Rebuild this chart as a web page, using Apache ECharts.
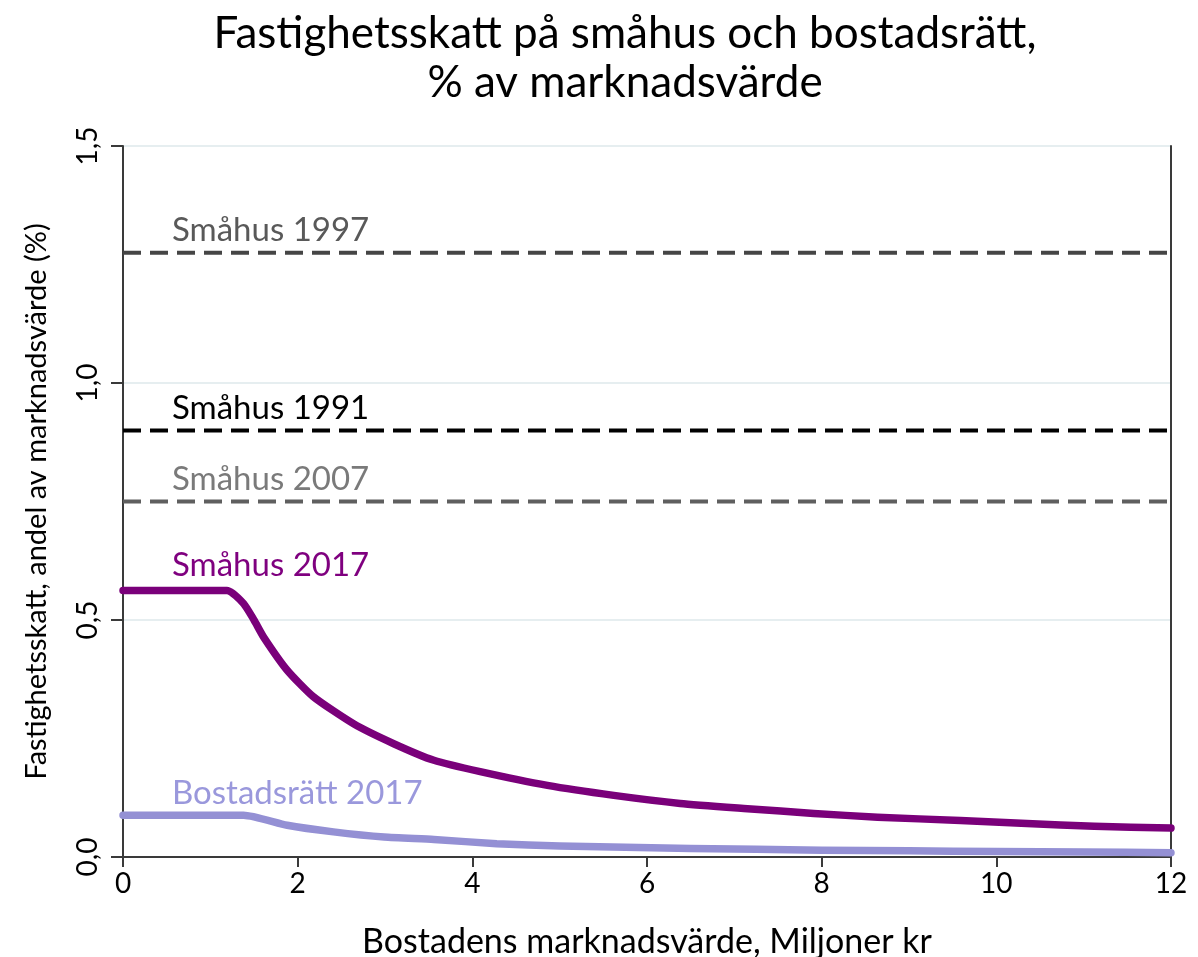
<!DOCTYPE html>
<html lang="sv">
<head>
    <meta charset="UTF-8">
    <title>Fastighetsskatt</title>
    <script src="https://cdn.jsdelivr.net/npm/echarts@6/dist/echarts.min.js"></script>
</head>
<body style="margin:0;">
<div id="main" style="width:1198px;height:957px;"></div>
<script>
    // marknadsvärde, miljoner kr (x) och skatt i % av marknadsvärde (y)
    var lineX = [0, 12];
    var smahus1997 = [1.275, 1.275];
    var smahus1991 = [0.9, 0.9];
    var smahus2007 = [0.75, 0.75];

    var smahus2017X = [0, 1.19, 1.38, 1.5, 1.61, 1.88, 2.18, 2.64, 3.1, 3.56, 4.09, 4.86, 5.62, 6.38, 7.15, 7.91, 8.64, 9.59, 10.35, 11.12, 12];
    var smahus2017Y = [0.5625, 0.5625, 0.535, 0.5, 0.464, 0.394, 0.338, 0.281, 0.239, 0.204, 0.18, 0.151, 0.13, 0.113, 0.102, 0.092, 0.084, 0.077, 0.0705, 0.065, 0.061];

    var bostadsratt2017X = [0, 1.38, 1.88, 2.41, 2.99, 3.56, 4.28, 5, 6.5, 8, 9, 10, 11, 12];
    var bostadsratt2017Y = [0.088, 0.088, 0.067, 0.053, 0.042, 0.037, 0.028, 0.023, 0.018, 0.0145, 0.013, 0.0115, 0.0105, 0.009];

    var xTicks = [0, 2, 4, 6, 8, 10, 12];
    var yTicks = [0, 0.5, 1.0, 1.5];

    var fontFam = 'Lato, "Noto Sans", sans-serif';

    function pairs(xs, ys) {
        return xs.map(function (x, i) { return [x, ys[i]]; });
    }

    // etikett till vänster ovanför linjen
    function tag(name, xs, ys, color, dy) {
        return {
            symbol: 'circle',
            symbolSize: 0,
            data: [{coord: [xs[0], ys[0]], name: name}],
            label: {
                show: true,
                position: 'right',
                distance: 0,
                offset: [49, dy],
                formatter: '{b}',
                color: color,
                fontFamily: fontFam,
                fontSize: 33
            }
        };
    }

    var myChart = echarts.init(document.getElementById('main'));
    myChart.setOption({
        animation: false,
        backgroundColor: '#fff',
        title: {
            text: 'Fastighetsskatt på småhus och bostadsrätt,\n% av marknadsvärde',
            left: 620,
            top: 4,
            textAlign: 'center',
            textStyle: {fontFamily: fontFam, fontSize: 44, fontWeight: 'normal', color: '#000', lineHeight: 49}
        },
        grid: {left: 123, right: 27, top: 146, bottom: 100, outerBoundsMode: 'none'},
        xAxis: {
            type: 'value',
            min: xTicks[0],
            max: xTicks[xTicks.length - 1],
            interval: 2,
            name: 'Bostadens marknadsvärde, Miljoner kr',
            nameLocation: 'middle',
            nameGap: 68,
            nameTextStyle: {fontFamily: fontFam, fontSize: 34, color: '#000'},
            axisLine: {lineStyle: {color: '#3a3a3a', width: 2}},
            axisTick: {length: 10, lineStyle: {color: '#3a3a3a', width: 2}},
            axisLabel: {fontFamily: fontFam, fontSize: 28, color: '#000', margin: 13},
            splitLine: {show: false}
        },
        yAxis: [{
            type: 'value',
            min: yTicks[0],
            max: yTicks[yTicks.length - 1],
            interval: 0.5,
            name: 'Fastighetsskatt, andel av marknadsvärde (%)',
            nameLocation: 'middle',
            nameGap: 72,
            nameTextStyle: {fontFamily: fontFam, fontSize: 29, color: '#000'},
            axisLine: {show: true, lineStyle: {color: '#3a3a3a', width: 2}},
            axisTick: {show: true, length: 12, lineStyle: {color: '#3a3a3a', width: 2}},
            axisLabel: {
                fontFamily: fontFam, fontSize: 28, color: '#000', rotate: 90, margin: 21,
                formatter: function (v) { return v.toFixed(1).replace('.', ','); }
            },
            splitLine: {lineStyle: {color: '#e6eef0', width: 2}}
        }, {
            type: 'value',
            position: 'right',
            min: yTicks[0],
            max: yTicks[yTicks.length - 1],
            interval: 0.5,
            axisLine: {show: true, lineStyle: {color: '#3a3a3a', width: 2}},
            axisTick: {show: false},
            axisLabel: {show: false},
            splitLine: {show: false}
        }],
        series: [
            {
                name: 'Småhus 1997', type: 'line', showSymbol: false, data: pairs(lineX, smahus1997),
                lineStyle: {color: '#454545', width: 4, type: [18, 9]},
                markPoint: tag('Småhus 1997', lineX, smahus1997, '#595959', -22)
            },
            {
                name: 'Småhus 1991', type: 'line', showSymbol: false, data: pairs(lineX, smahus1991),
                lineStyle: {color: '#000', width: 4, type: [18, 9]},
                markPoint: tag('Småhus 1991', lineX, smahus1991, '#000', -22)
            },
            {
                name: 'Småhus 2007', type: 'line', showSymbol: false, data: pairs(lineX, smahus2007),
                lineStyle: {color: '#5f5f5f', width: 4, type: [18, 9]},
                markPoint: tag('Småhus 2007', lineX, smahus2007, '#7a7a7a', -22)
            },
            {
                name: 'Småhus 2017', type: 'line', showSymbol: false, smooth: 0.2,
                data: pairs(smahus2017X, smahus2017Y),
                lineStyle: {color: '#7a007a', width: 7.5, cap: 'round', join: 'round'},
                markPoint: tag('Småhus 2017', smahus2017X, smahus2017Y, '#7f007f', -25)
            },
            {
                name: 'Bostadsrätt 2017', type: 'line', showSymbol: false, smooth: 0.2,
                data: pairs(bostadsratt2017X, bostadsratt2017Y),
                lineStyle: {color: '#9490d4', width: 7.5, cap: 'round', join: 'round'},
                markPoint: tag('Bostadsrätt 2017', bostadsratt2017X, bostadsratt2017Y, '#9a98dc', -22)
            }
        ]
    });
</script>
</body>
</html>
